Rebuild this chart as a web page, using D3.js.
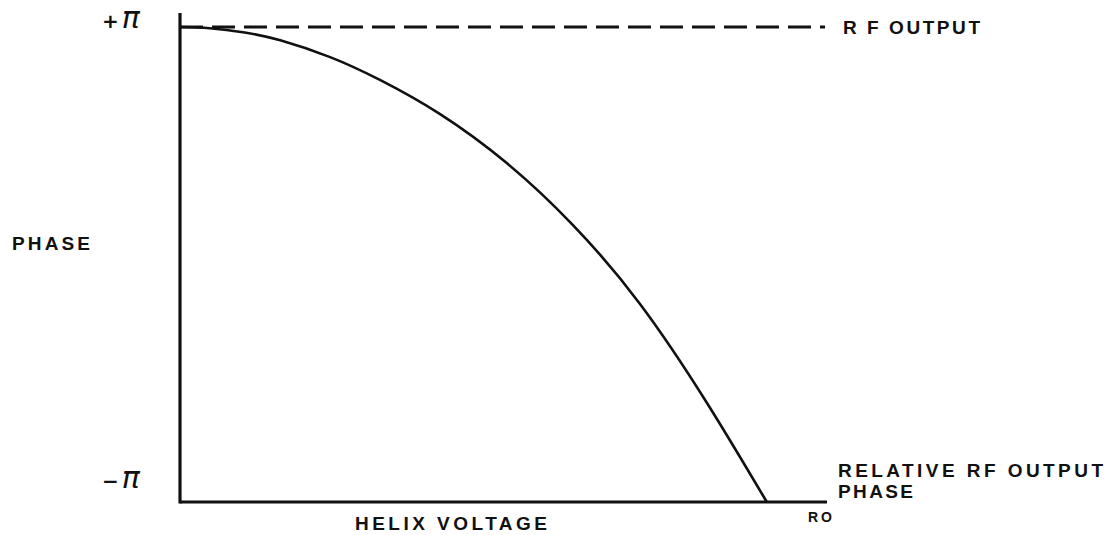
<!DOCTYPE html>
<html lang="en">
<head>
	<meta charset="utf-8">
	<script src="https://d3js.org/d3.v7.min.js"></script>
	<style type="text/css">
		body { margin: 0; background: #fff; }
		.lbl {
			font-family: "Liberation Sans", Arial, sans-serif;
			font-weight: bold;
			fill: #111;
		}
	</style>
</head>
<body>
	<script type="text/javascript">

	// helix voltage (relative, 0..1) vs relative RF output phase (in units of pi)
	var voltage = [0, 0.046, 0.1, 0.155, 0.232, 0.309, 0.402, 0.505, 0.607, 0.711, 0.815, 0.907];
	var phase   = [1, 0.995, 0.977, 0.944, 0.873, 0.777, 0.633, 0.427, 0.167, -0.166, -0.585, -1];

	var rfOutputLevel = 1;          // dashed reference line, +pi
	var phaseTicks = [1, -1];
	var phaseTickSigns = ["+", "−"];

	var width = 1114;
	var height = 535;

	var x = d3.scaleLinear().domain([0, 1]).range([180, 827]);
	var y = d3.scaleLinear().domain([-1, 1]).range([502, 27]);

	var svg = d3.select("body").append("svg")
		.attr("width", width)
		.attr("height", height);

	// axes (plain lines, no ticks)
	svg.append("line")
		.attr("x1", x(0)).attr("x2", x(0))
		.attr("y1", y(1) - 14).attr("y2", y(-1) + 1.5)
		.style("stroke", "#111").style("stroke-width", 3.2);

	svg.append("line")
		.attr("x1", x(0)).attr("x2", x(1))
		.attr("y1", y(-1)).attr("y2", y(-1))
		.style("stroke", "#111").style("stroke-width", 3.2);

	// dashed RF output line
	svg.append("line")
		.attr("x1", x(0)).attr("x2", x(0.997))
		.attr("y1", y(rfOutputLevel)).attr("y2", y(rfOutputLevel))
		.style("stroke", "#111").style("stroke-width", 3)
		.style("stroke-dasharray", "23,9");

	// phase curve
	var line = d3.line()
		.x(function(d, i) { return x(voltage[i]); })
		.y(function(d) { return y(d); })
		.curve(d3.curveNatural);

	svg.append("path")
		.datum(phase)
		.attr("d", line)
		.style("fill", "none")
		.style("stroke", "#111")
		.style("stroke-width", 2.6);

	// +pi / -pi labels
	var tick = svg.selectAll(".ptick")
		.data(phaseTicks)
		.enter().append("text")
		.attr("class", "lbl ptick")
		.attr("x", 102)
		.attr("y", function(d) { return d > 0 ? y(d) + 1 : y(d) - 14; })
		.style("font-family", "\"DejaVu Sans\", sans-serif");

	tick.append("tspan")
		.style("font-size", "20px")
		.text(function(d, i) { return phaseTickSigns[i]; });
	tick.append("tspan")
		.attr("dx", 3)
		.style("font-size", "30px")
		.style("font-style", "italic")
		.style("font-weight", "normal")
		.text("π");

	function label(txt, px, py, size, len) {
		svg.append("text")
			.attr("class", "lbl")
			.attr("x", px).attr("y", py)
			.attr("textLength", len)
			.attr("lengthAdjust", "spacing")
			.style("font-size", size + "px")
			.text(txt);
	}

	label("PHASE", 12, 250, 19, 78);
	label("R F OUTPUT", 843, 34, 19, 137);
	label("RELATIVE  RF  OUTPUT", 838, 477, 19, 265);
	label("PHASE", 838, 498, 19, 75);
	label("RO", 808, 522, 14, 24);
	label("HELIX   VOLTAGE", 355, 530, 19, 192);

	</script>
</body>
</html>
